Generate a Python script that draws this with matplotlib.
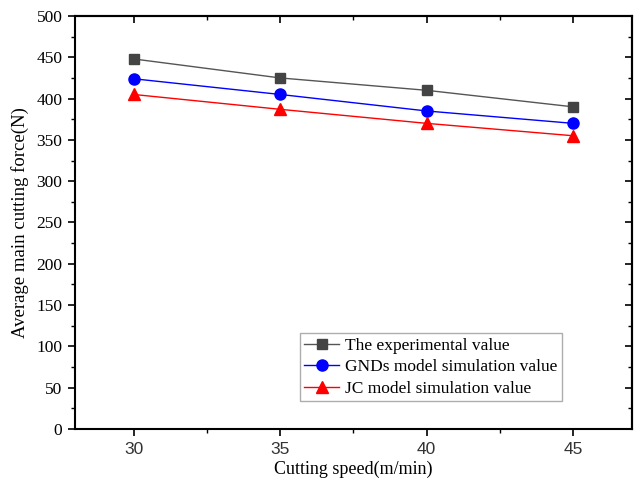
import matplotlib
matplotlib.use("Agg")
import matplotlib.pyplot as plt
from matplotlib.ticker import MultipleLocator

plt.rcParams['font.family'] = ['Liberation Serif', 'DejaVu Serif']

speeds = [30, 35, 40, 45]
experimental = [448, 425, 410, 390]
gnds_model = [424, 405, 385, 370]
jc_model = [405, 387, 370, 355]

labels = ["The experimental value",
          "GNDs model simulation value",
          "JC model simulation value"]

fig = plt.figure(figsize=(6.35, 4.84), dpi=100)
ax = fig.add_axes([0.118, 0.1136, 0.877, 0.8534])

ax.plot(speeds, experimental, color="#555555", lw=1.0, marker="s", ms=7,
        mfc="#444444", mec="#444444", label=labels[0])
ax.plot(speeds, gnds_model, color="#0000ff", lw=1.0, marker="o", ms=8,
        mfc="#0000ff", mec="#0000ff", label=labels[1])
ax.plot(speeds, jc_model, color="#ff0000", lw=1.0, marker="^", ms=8,
        mfc="#ff0000", mec="#ff0000", label=labels[2])

ax.set_xlim(28, 47)
ax.set_ylim(0, 500)
ax.set_xticks(speeds)
ax.xaxis.set_minor_locator(MultipleLocator(2.5))
ax.yaxis.set_major_locator(MultipleLocator(50))
ax.yaxis.set_minor_locator(MultipleLocator(25))

ax.tick_params(which="major", direction="out", length=5, width=1.2)
ax.tick_params(which="minor", direction="out", length=3, width=1.0)
ax.tick_params(axis="y", labelsize=12.5, pad=4)
ax.tick_params(axis="x", labelsize=12.5, pad=4, labelcolor="#333333")
for lab in ax.get_xticklabels():
    lab.set_family(["Liberation Sans", "DejaVu Sans"])

for side in ["left", "right", "top", "bottom"]:
    ax.spines[side].set_linewidth(1.5)

top = ax.secondary_xaxis("top")
top.set_xticks(speeds)
top.xaxis.set_minor_locator(MultipleLocator(2.5))
top.tick_params(which="major", direction="in", length=5, width=1.2, labeltop=False)
top.tick_params(which="minor", direction="in", length=3, width=1.0)
top.spines["top"].set_linewidth(1.5)

right = ax.secondary_yaxis("right")
right.yaxis.set_major_locator(MultipleLocator(50))
right.yaxis.set_minor_locator(MultipleLocator(25))
right.tick_params(which="major", direction="in", length=5, width=1.2, labelright=False)
right.tick_params(which="minor", direction="in", length=3, width=1.0)
right.spines["right"].set_linewidth(1.5)

ax.set_xlabel("Cutting speed(m/min)", fontsize=13, labelpad=3)
ax.set_ylabel("Average main cutting force(N)", fontsize=13.5, labelpad=5)

leg = ax.legend(loc="lower left", bbox_to_anchor=(0.404, 0.068, 0.47, 0.162),
                mode="expand", fontsize=12.5, frameon=True, fancybox=False,
                borderaxespad=0, handlelength=2.0, handletextpad=0.35,
                labelspacing=0.3, borderpad=0.25)
leg.get_frame().set_edgecolor("#999999")
leg.get_frame().set_linewidth(1.0)

fig.savefig("out.png", dpi=100)
